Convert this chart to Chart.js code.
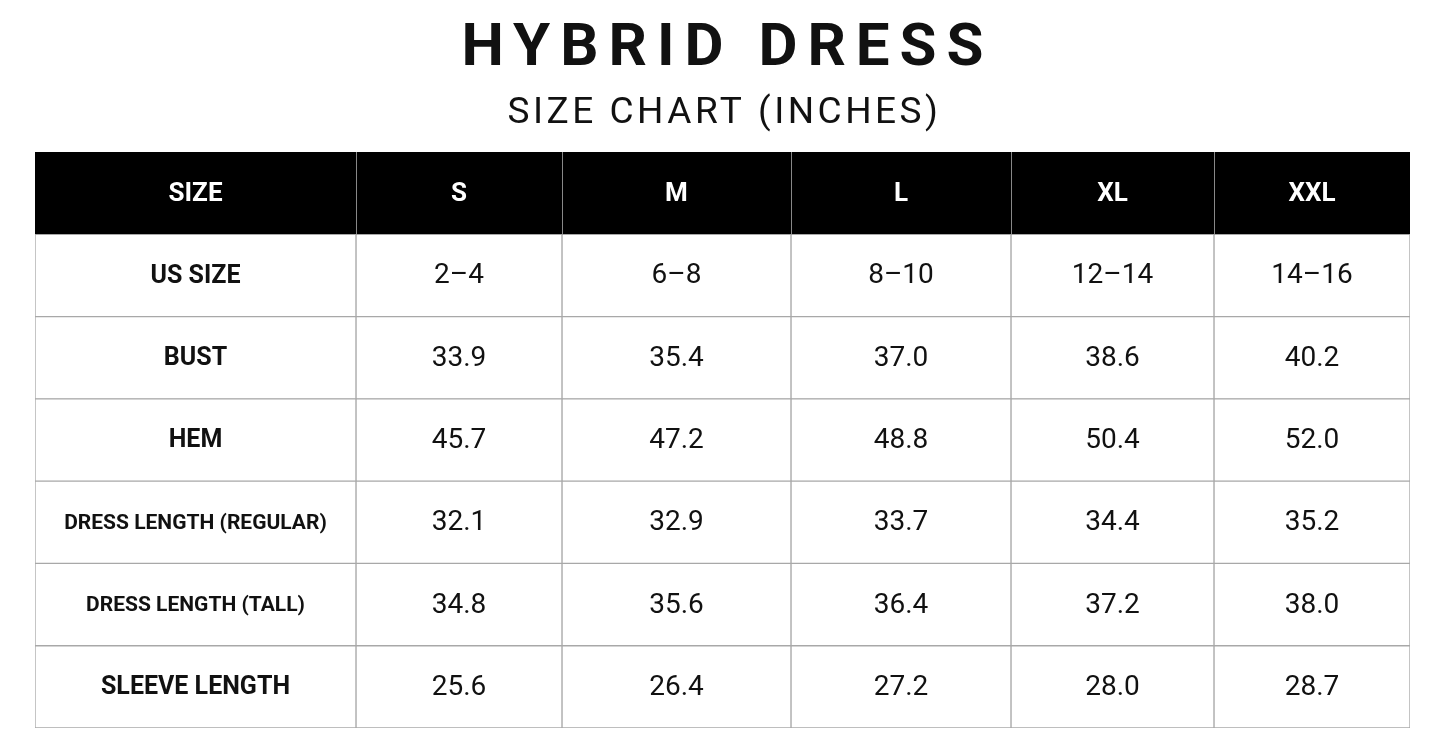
<!DOCTYPE html>
<html><head><meta charset="utf-8">
<script src="https://cdn.jsdelivr.net/npm/chart.js@4/dist/chart.umd.min.js"></script>
<style>html,body{margin:0;padding:0;background:#fff}#c{display:block}</style>
</head><body>
<canvas id="c" width="1445" height="755"></canvas>
<script>
const titleText = "HYBRID DRESS";
const subtitleText = "SIZE CHART (INCHES)";
const columns = ["SIZE","S","M","L","XL","XXL"];
const rowLabels = ["US SIZE","BUST","HEM","DRESS LENGTH (REGULAR)","DRESS LENGTH (TALL)","SLEEVE LENGTH"];
const usSize = ["2–4","6–8","8–10","12–14","14–16"];
const bust = ["33.9","35.4","37.0","38.6","40.2"];
const hem = ["45.7","47.2","48.8","50.4","52.0"];
const lengthRegular = ["32.1","32.9","33.7","34.4","35.2"];
const lengthTall = ["34.8","35.6","36.4","37.2","38.0"];
const sleeve = ["25.6","26.4","27.2","28.0","28.7"];
const valueRows = [usSize,bust,hem,lengthRegular,lengthTall,sleeve];

// layout (column edges in table units)
const colEdges = [0,321,527,756,976,1179,1375];
const rowsAll = ["header"].concat(rowLabels);

const datasets = columns.map((c,i)=>({
  label:c,
  data: rowsAll.map(()=>[colEdges[i],colEdges[i+1]]),
  backgroundColor: rowsAll.map((r,j)=> j===0 ? "#000" : "#fff"),
  borderColor: rowsAll.map((r,j)=> j===0 ? "#000" : "#a8a8a8"),
  borderWidth: 1, borderSkipped:false, grouped:false,
  barPercentage:1, categoryPercentage:1
}));

function cellText(i,j){
  if(j===0) return columns[i];
  if(i===0) return rowLabels[j-1];
  return valueRows[j-1][i-1];
}

const textPlugin = {
  id:"texts",
  afterDatasetsDraw(chart){
    const ctx = chart.ctx;
    ctx.save();
    ctx.textAlign="center"; ctx.textBaseline="middle";
    chart.data.datasets.forEach((ds,i)=>{
      const meta = chart.getDatasetMeta(i);
      meta.data.forEach((bar,j)=>{
        const cx=(bar.x+bar.base)/2, cy=bar.y;
        if(j===0 && i>0){
          ctx.strokeStyle="#888"; ctx.lineWidth=1;
          ctx.beginPath(); ctx.moveTo(Math.round(bar.base)+0.5,bar.y-bar.height/2); ctx.lineTo(Math.round(bar.base)+0.5,bar.y+bar.height/2); ctx.stroke();
        }
        let font, color="#111";
        if(j===0){ font="bold 26px Roboto"; color="#fff"; }
        else if(i===0){ const t=cellText(i,j); font = t.length>16 ? "bold 21px Roboto" : "bold 25px Roboto"; }
        else font="28px Roboto";
        ctx.font=font; ctx.fillStyle=color;
        ctx.fillText(cellText(i,j),cx,cy+1);
      });
    });
    const mid = chart.width/2;
    ctx.fillStyle="#111";
    ctx.letterSpacing="10px";
    ctx.font="bold 60px Roboto";
    ctx.fillText(titleText,mid+5,50);
    ctx.letterSpacing="3.5px";
    ctx.font="37px Roboto";
    ctx.fillText(subtitleText,mid+2,114);
    ctx.restore();
  }
};

new Chart(document.getElementById("c"),{
  type:"bar",
  data:{labels:rowsAll,datasets},
  options:{
    indexAxis:"y", responsive:false, animation:false, events:[],
    layout:{padding:{left:35,right:35,top:152,bottom:27}},
    scales:{
      x:{type:"linear",min:0,max:1375,display:false},
      y:{display:false,offset:true}
    },
    plugins:{legend:{display:false},tooltip:{enabled:false},title:{display:false}}
  },
  plugins:[textPlugin]
});
</script>
</body></html>
